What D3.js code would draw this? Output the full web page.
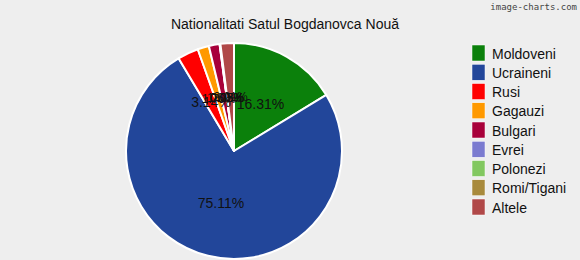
<!DOCTYPE html>
<html lang="en">
<head>
<meta charset="UTF-8">
<title>Nationalitati Satul Bogdanovca Nouă</title>
<script src="https://d3js.org/d3.v7.min.js"></script>
<style>
  body { margin: 0; background: #eeeeee; }
  text { font-family: "Liberation Sans", Arial, sans-serif; }
</style>
</head>
<body>
<div id="chart"></div>
<script>
// Data
var categories = ["Moldoveni", "Ucraineni", "Rusi", "Gagauzi", "Bulgari", "Evrei", "Polonezi", "Romi/Tigani", "Altele"];
var values = [16.31, 75.11, 3.14, 1.70, 1.60, 0.05, 0.03, 0.05, 2.01];
var colors = ["#0b800b", "#22469a", "#ff0000", "#ff9900", "#a8003a", "#7b7bd0", "#82c860", "#a88a3c", "#b04848"];

var width = 580, height = 260;
var cx = 234, cy = 151, radius = 108;

var svg = d3.select("#chart")
    .append("svg")
    .attr("width", width)
    .attr("height", height)
    .style("background", "#eeeeee");

// Title
svg.append("text")
    .attr("x", 285)
    .attr("y", 29)
    .attr("text-anchor", "middle")
    .style("font-size", "14px")
    .attr("fill", "#111")
    .text("Nationalitati Satul Bogdanovca Nouă");

// Watermark
svg.append("text")
    .attr("x", 577)
    .attr("y", 10)
    .attr("text-anchor", "end")
    .style("font-family", "'DejaVu Sans Mono', monospace")
    .style("font-size", "9px")
    .attr("fill", "#444")
    .text("image-charts.com");

var data = categories.map(function(c, i) { return { name: c, value: values[i], color: colors[i] }; });

var pie = d3.pie()
    .sort(null)
    .value(function(d) { return d.value; });

var arc = d3.arc()
    .innerRadius(0)
    .outerRadius(radius);

var labelArc = d3.arc()
    .innerRadius(radius / 2)
    .outerRadius(radius / 2);

var g = svg.append("g")
    .attr("transform", "translate(" + cx + "," + cy + ")");

var arcs = pie(data);

g.selectAll("path")
    .data(arcs)
    .enter()
    .append("path")
    .attr("d", arc)
    .attr("fill", function(d) { return d.data.color; })
    .attr("stroke", "#ffffff")
    .attr("stroke-width", 2)
    .attr("stroke-linejoin", "round");

// Labels at half radius
g.selectAll("text.lbl")
    .data(arcs)
    .enter()
    .append("text")
    .attr("class", "lbl")
    .attr("transform", function(d) { return "translate(" + labelArc.centroid(d) + ")"; })
    .attr("text-anchor", "middle")
    .attr("dy", "0.35em")
    .style("font-size", function(d) { return d.data.value >= 3 ? "14px" : "12px"; })
    .attr("fill", "#111")
    .text(function(d) { return d.data.value.toFixed(2) + "%"; });

// Legend
var legend = svg.append("g")
    .attr("transform", "translate(472,45)");

var item = legend.selectAll("g")
    .data(data)
    .enter()
    .append("g")
    .attr("transform", function(d, i) { return "translate(0," + (i * 19.25) + ")"; });

item.append("rect")
    .attr("width", 13)
    .attr("height", 16)
    .attr("fill", function(d) { return d.color; })
    .attr("stroke", "#ffffff")
    .attr("stroke-width", 0.5);

item.append("text")
    .attr("x", 20)
    .attr("y", 13.5)
    .style("font-size", "14px")
    .attr("fill", "#111")
    .text(function(d) { return d.name; });
</script>
</body>
</html>
